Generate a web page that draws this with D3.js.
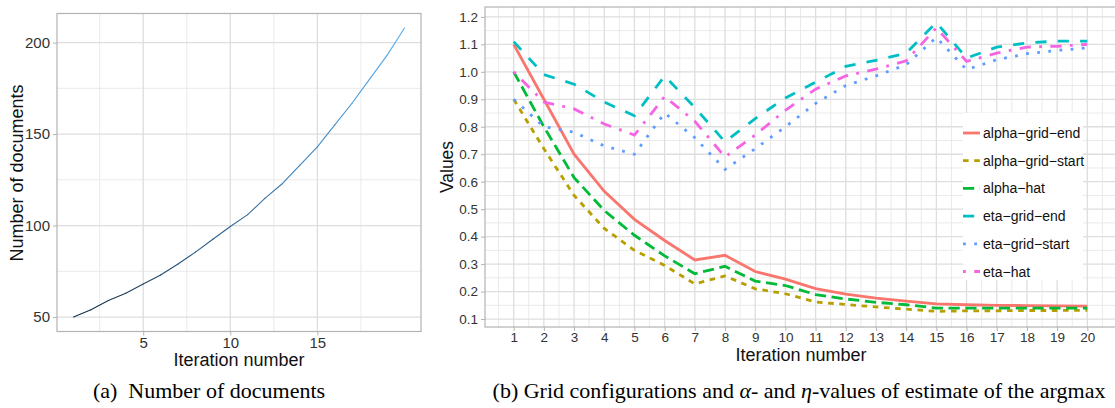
<!DOCTYPE html>
<html>
<head>
<meta charset="utf-8">
<script src="https://cdn.jsdelivr.net/npm/d3@7"></script>
<style>
  body { margin: 0; background: #fff; }
  svg { display: block; font-family: "Liberation Sans", Arial, sans-serif; }
</style>
</head>
<body>
<svg id="chart" width="1115" height="408"></svg>
<script>
// ---- data ----
const iterations = d3.range(1, 21);

// (a) number of documents per iteration
const numDocs = [50, 54, 59, 63, 68, 73, 79, 85.5, 92.5, 99.5, 106, 115, 123, 133, 143, 155, 167, 180, 193, 208];

// (b) grid configurations and estimates
const alphaGridEnd   = [1.10, 0.90, 0.70, 0.565, 0.463, 0.386, 0.315, 0.332, 0.273, 0.245, 0.211, 0.191, 0.176, 0.165, 0.155, 0.152, 0.150, 0.149, 0.148, 0.147];
const alphaGridStart = [0.90, 0.72, 0.55, 0.43, 0.35, 0.295, 0.228, 0.257, 0.21, 0.192, 0.162, 0.153, 0.144, 0.136, 0.128, 0.13, 0.13, 0.131, 0.131, 0.132];
const alphaHat       = [1.00, 0.80, 0.615, 0.495, 0.405, 0.33, 0.265, 0.292, 0.238, 0.222, 0.189, 0.173, 0.161, 0.152, 0.14, 0.14, 0.14, 0.14, 0.14, 0.14];
const etaGridEnd     = [1.11, 0.99, 0.955, 0.89, 0.84, 0.985, 0.87, 0.745, 0.83, 0.905, 0.962, 1.02, 1.042, 1.068, 1.18, 1.05, 1.09, 1.105, 1.112, 1.112];
const etaGridStart   = [0.90, 0.80, 0.78, 0.73, 0.70, 0.85, 0.76, 0.645, 0.72, 0.80, 0.885, 0.95, 0.985, 1.026, 1.125, 1.008, 1.044, 1.066, 1.078, 1.087];
const etaHat         = [1.00, 0.89, 0.865, 0.81, 0.77, 0.91, 0.82, 0.69, 0.77, 0.86, 0.937, 0.985, 1.01, 1.04, 1.16, 1.038, 1.068, 1.09, 1.093, 1.10];

const seriesNames  = ["alpha−grid−end", "alpha−grid−start", "alpha−hat", "eta−grid−end", "eta−grid−start", "eta−hat"];
const seriesValues = [alphaGridEnd, alphaGridStart, alphaHat, etaGridEnd, etaGridStart, etaHat];
const seriesColors = ["#F8766D", "#B79F00", "#00BA38", "#00BFC4", "#619CFF", "#F564E3"];
const seriesDashes = ["", "2,2", "4,2", "4,4", "1,3", "1,3,4,3"]; // ggplot linetypes, in line-width units

const leftYTicks  = [50, 100, 150, 200];
const leftYMinor  = [75, 125, 175];
const leftXTicks  = [5, 10, 15];
const leftXMinor  = [2.5, 7.5, 12.5, 17.5];
const rightYTicks = [0.1, 0.2, 0.3, 0.4, 0.5, 0.6, 0.7, 0.8, 0.9, 1.0, 1.1, 1.2];

const captionA = "(a)  Number of documents";

const svg = d3.select("#chart");
const gridMajor = "#dedede", gridMinor = "#e8e8e8", borderCol = "#b3b3b3", tickText = "#333";

function drawFrame(g, x, y, xMaj, xMin, yMaj, yMin, yFmt, fontSize) {
  const [x0, x1] = x.range(), [y1, y0] = y.range();
  g.append("g").selectAll("line").data(yMin).join("line")
    .attr("x1", x0).attr("x2", x1).attr("y1", d => y(d)).attr("y2", d => y(d))
    .attr("stroke", gridMinor).attr("stroke-width", 0.9);
  g.append("g").selectAll("line").data(xMin).join("line")
    .attr("y1", y0).attr("y2", y1).attr("x1", d => x(d)).attr("x2", d => x(d))
    .attr("stroke", gridMinor).attr("stroke-width", 0.9);
  g.append("g").selectAll("line").data(yMaj).join("line")
    .attr("x1", x0).attr("x2", x1).attr("y1", d => y(d)).attr("y2", d => y(d))
    .attr("stroke", gridMajor).attr("stroke-width", 1.3);
  g.append("g").selectAll("line").data(xMaj).join("line")
    .attr("y1", y0).attr("y2", y1).attr("x1", d => x(d)).attr("x2", d => x(d))
    .attr("stroke", gridMajor).attr("stroke-width", 1.3);

  const ax = g.append("g").attr("transform", `translate(0,${y1})`)
    .call(d3.axisBottom(x).tickValues(xMaj).tickSize(4).tickPadding(1.5));
  const ay = g.append("g").attr("transform", `translate(${x0},0)`)
    .call(d3.axisLeft(y).tickValues(yMaj).tickFormat(yFmt).tickSize(4).tickPadding(3));
  [ax, ay].forEach(a => {
    a.select(".domain").remove();
    a.selectAll("line").attr("stroke", borderCol);
    a.selectAll("text").attr("fill", tickText).style("font-size", fontSize + "px")
      .style("font-family", "'Liberation Sans', Arial, sans-serif");
  });
  g.append("rect").attr("x", x0).attr("y", y0).attr("width", x1 - x0).attr("height", y1 - y0)
    .attr("fill", "none").attr("stroke", borderCol).attr("stroke-width", 1.2);
}

// ---- panel (a) ----
const xa = d3.scaleLinear().domain([0.05, 20.95]).range([57, 421]);
const ya = d3.scaleLinear().domain([42.1, 215.9]).range([331.5, 13.5]);
const ga = svg.append("g");
drawFrame(ga, xa, ya, leftXTicks, leftXMinor, leftYTicks, leftYMinor, d3.format("d"), 15);

// colour runs along the iteration axis, dark navy -> light blue
const docColor = d3.scaleLinear().domain([1, 20]).range(["#132B43", "#56B1F7"])
  .interpolate(d3.interpolateLab);
const docPts = iterations.map((it, i) => ({ x: it, y: numDocs[i] }));
ga.append("g").selectAll("line").data(d3.pairs(docPts)).join("line")
  .attr("x1", d => xa(d[0].x)).attr("y1", d => ya(d[0].y))
  .attr("x2", d => xa(d[1].x)).attr("y2", d => ya(d[1].y))
  .attr("stroke", d => docColor((d[0].x + d[1].x) / 2))
  .attr("stroke-width", 1.1).attr("stroke-linecap", "round");

ga.append("text").attr("x", 239).attr("y", 366).attr("text-anchor", "middle")
  .style("font-size", "18px").attr("fill", "#111").text("Iteration number");
ga.append("text").attr("transform", "translate(23,173) rotate(-90)").attr("text-anchor", "middle")
  .style("font-size", "18px").attr("fill", "#111").text("Number of documents");

// ---- panel (b) ----
const xb = d3.scaleLinear().domain([0.05, 20.95]).range([485, 1116]);
const yb = d3.scaleLinear().domain([0.071, 1.236]).range([327, 7]);
const gb = svg.append("g");
const xbMinor = d3.range(0.5, 21, 1);
const ybMinor = d3.range(0.15, 1.25, 0.1);
drawFrame(gb, xb, yb, iterations, xbMinor, rightYTicks, ybMinor, d3.format(".1f"), 13.5);

const lw = 2.8;
const line = d3.line().x((d, i) => xb(iterations[i])).y(d => yb(d));
const dashPx = s => s ? s.split(",").map(v => +v * lw).join(",") : null;

gb.append("g").selectAll("path").data(seriesValues).join("path")
  .attr("d", d => line(d))
  .attr("fill", "none")
  .attr("stroke", (d, i) => seriesColors[i])
  .attr("stroke-width", lw)
  .attr("stroke-dasharray", (d, i) => dashPx(seriesDashes[i]));

// legend
const lg = gb.append("g").attr("transform", "translate(963,113)");
lg.append("rect").attr("width", 120).attr("height", 167).attr("fill", "#fff");
const item = lg.selectAll("g").data(seriesNames).join("g")
  .attr("transform", (d, i) => `translate(0,${20 + i * 27.7})`);
item.append("line").attr("x1", 0).attr("x2", 17).attr("y1", 0).attr("y2", 0)
  .attr("stroke", (d, i) => seriesColors[i]).attr("stroke-width", lw)
  .attr("stroke-dasharray", (d, i) => dashPx(seriesDashes[i]));
item.append("text").attr("x", 20).attr("y", 5).style("font-size", "14px").attr("fill", "#111")
  .text(d => d);

gb.append("text").attr("x", 801).attr("y", 361).attr("text-anchor", "middle")
  .style("font-size", "18px").attr("fill", "#111").text("Iteration number");
gb.append("text").attr("transform", "translate(453,167) rotate(-90)").attr("text-anchor", "middle")
  .style("font-size", "17.5px").attr("fill", "#111").text("Values");

// ---- captions ----
const cap = svg.append("g").style("font-family", "'Liberation Serif', 'Times New Roman', serif")
  .style("font-size", "22px").attr("fill", "#000");
cap.append("text").attr("x", 209).attr("y", 398).attr("text-anchor", "middle")
  .attr("xml:space", "preserve").text(captionA);
const capB = cap.append("text").attr("x", 799).attr("y", 398).attr("text-anchor", "middle");
capB.append("tspan").text("(b) Grid configurations and ");
capB.append("tspan").style("font-style", "italic").text("α");
capB.append("tspan").text("- and ");
capB.append("tspan").style("font-style", "italic").text("η");
capB.append("tspan").text("-values of estimate of the argmax");
</script>
</body>
</html>
